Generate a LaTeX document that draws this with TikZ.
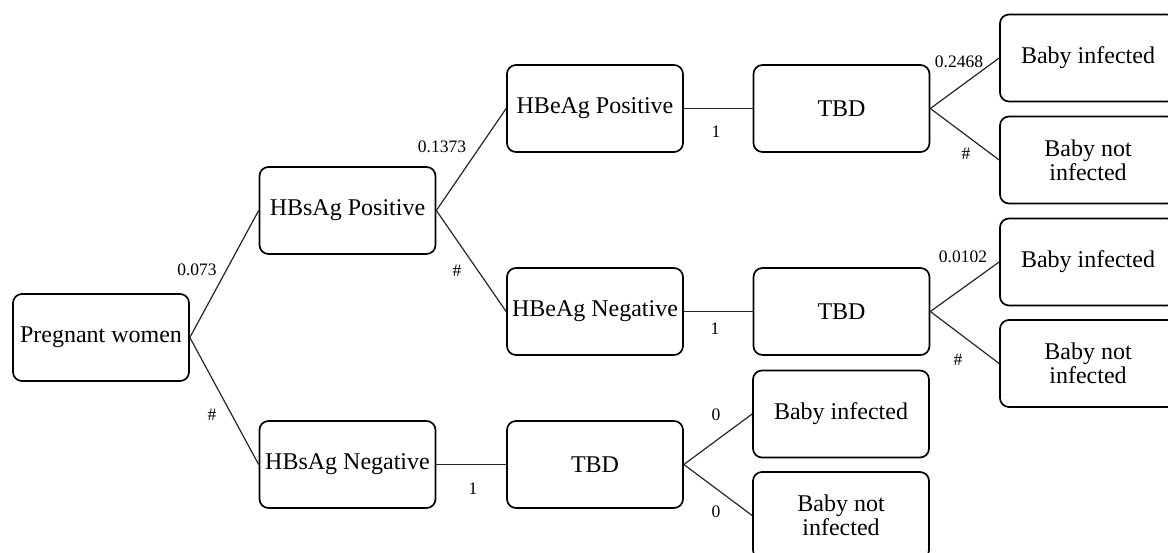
\documentclass[tikz,border=0pt]{standalone}
\usepackage{fontspec}
\setmainfont{Liberation Serif}
\begin{document}
\begin{tikzpicture}[x=1pt,y=-1pt,
  box/.style={draw=black, line width=1.7pt, rounded corners=9pt,
    minimum width=176pt, minimum height=87pt, inner sep=0pt,
    align=center, font=\fontsize{24}{24}\selectfont},
  link/.style={draw=black!85, line width=1.2pt},
  prob/.style={font=\fontsize{17.5}{18}\selectfont, inner sep=0pt}]
\useasboundingbox (0,0) rectangle (1168,553);
\clip (0,0) rectangle (1168,553);

% decision tree nodes
\node[box] (pw) at (101,337.5)   {Pregnant women};
\node[box] (sp) at (347.5,210.5) {HBsAg Positive};
\node[box] (sn) at (347.5,464.5) {HBsAg Negative};
\node[box] (ep) at (595,108.5)   {HBeAg Positive};
\node[box] (en) at (595,311.5)   {HBeAg Negative};
\node[box] (t1) at (841.5,108.5) {TBD};
\node[box] (t2) at (841.5,311.5) {TBD};
\node[box] (t3) at (595,464.5)   {TBD};
\node[box] (b1) at (1088,58)     {Baby infected};
\node[box] (b2) at (1088,160)    {Baby not\\infected};
\node[box] (b3) at (1088,262)    {Baby infected};
\node[box] (b4) at (1088,363.5)  {Baby not\\infected};
\node[box] (b5) at (841,414)     {Baby infected};
\node[box] (b6) at (841,515.5)   {Baby not\\infected};

% branches
\draw[link] (pw.east) -- (sp.west);
\draw[link] (pw.east) -- (sn.west);
\draw[link] (sp.east) -- (ep.west);
\draw[link] (sp.east) -- (en.west);
\draw[link] (ep.east) -- (t1.west);
\draw[link] (en.east) -- (t2.west);
\draw[link] (sn.east) -- (t3.west);
\draw[link] (t1.east) -- (b1.west);
\draw[link] (t1.east) -- (b2.west);
\draw[link] (t2.east) -- (b3.west);
\draw[link] (t2.east) -- (b4.west);
\draw[link] (t3.east) -- (b5.west);
\draw[link] (t3.east) -- (b6.west);

% branch probabilities
\node[prob] (p1)  at (197,270) {0.073};
\node[prob] (p2)  at (212,415) {\#};
\node[prob] (p3)  at (442,147) {0.1373};
\node[prob] (p4)  at (457,271) {\#};
\node[prob] (p5)  at (716,132) {1};
\node[prob] (p6)  at (715,329) {1};
\node[prob] (p7)  at (473,489) {1};
\node[prob] (p8)  at (959,62)  {0.2468};
\node[prob] (p9)  at (966,154) {\#};
\node[prob] (p10) at (963,257) {0.0102};
\node[prob] (p11) at (958,360) {\#};
\node[prob] (p12) at (716,415) {0};
\node[prob] (p13) at (716,512) {0};
\end{tikzpicture}
\end{document}
